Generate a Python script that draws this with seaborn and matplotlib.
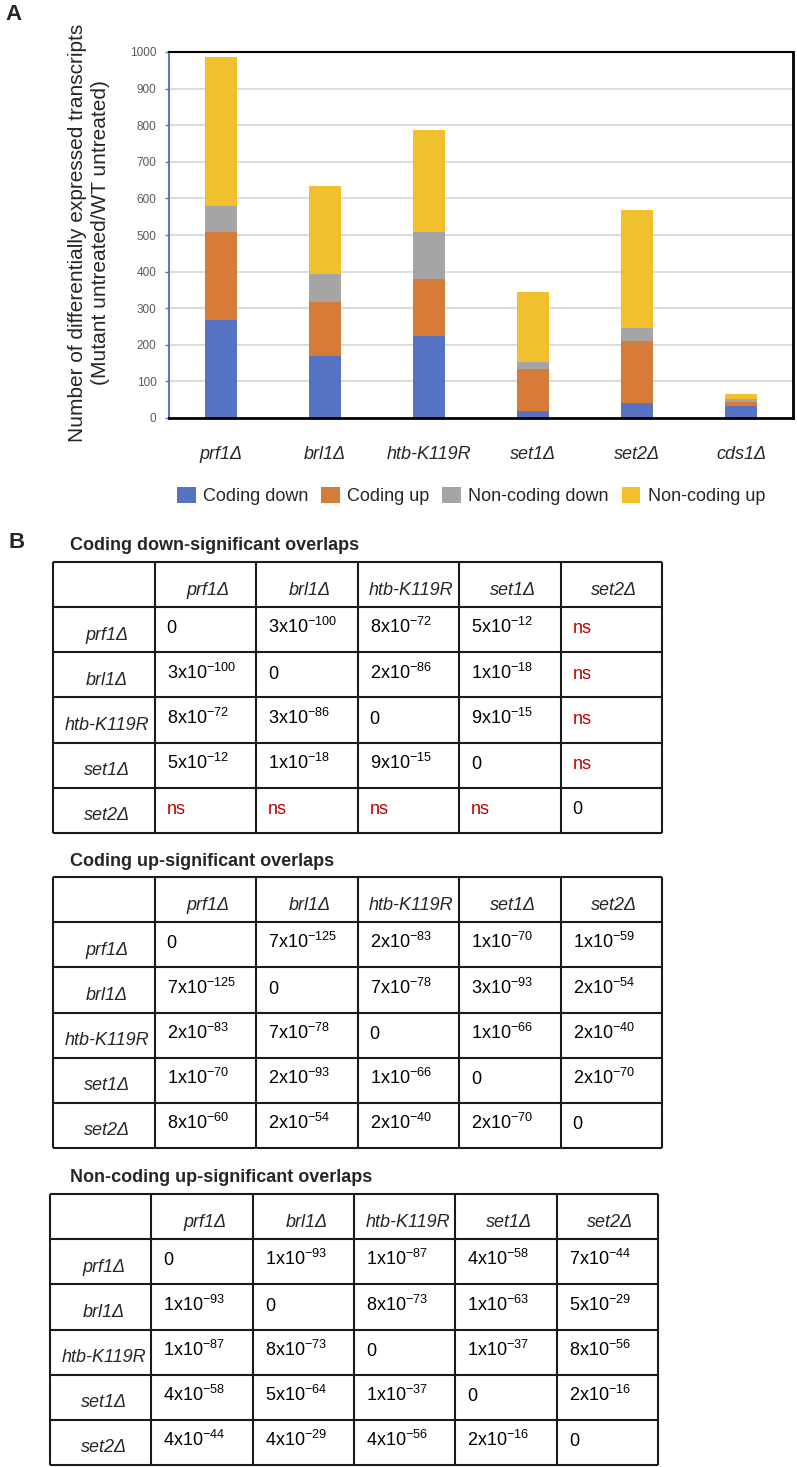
import numpy as np
import pandas as pd
import matplotlib
matplotlib.use("Agg")
import matplotlib.pyplot as plt
from matplotlib.patches import Patch
import seaborn as sns

W, H = 797, 1467

# bar chart data (panel A)
strains = ['prf1Δ', 'brl1Δ', 'htb-K119R', 'set1Δ', 'set2Δ', 'cds1Δ']
coding_down = [267, 169, 223, 19, 40, 32]
coding_up = [241, 148, 157, 116, 170, 11]
noncoding_down = [70, 76, 128, 17, 37, 10]
noncoding_up = [408, 242, 280, 191, 320, 12]

series_names = ['Coding down', 'Coding up', 'Non-coding down', 'Non-coding up']
series_colors = ['#5572C4', '#D67B38', '#A5A5A5', '#F1C02F']

# overlap tables (panel B)
table_strains = ['prf1Δ', 'brl1Δ', 'htb-K119R', 'set1Δ', 'set2Δ']
coding_down_p = [
    ['0', '3x10^-100', '8x10^-72', '5x10^-12', 'ns'],
    ['3x10^-100', '0', '2x10^-86', '1x10^-18', 'ns'],
    ['8x10^-72', '3x10^-86', '0', '9x10^-15', 'ns'],
    ['5x10^-12', '1x10^-18', '9x10^-15', '0', 'ns'],
    ['ns', 'ns', 'ns', 'ns', '0'],
]
coding_up_p = [
    ['0', '7x10^-125', '2x10^-83', '1x10^-70', '1x10^-59'],
    ['7x10^-125', '0', '7x10^-78', '3x10^-93', '2x10^-54'],
    ['2x10^-83', '7x10^-78', '0', '1x10^-66', '2x10^-40'],
    ['1x10^-70', '2x10^-93', '1x10^-66', '0', '2x10^-70'],
    ['8x10^-60', '2x10^-54', '2x10^-40', '2x10^-70', '0'],
]
noncoding_up_p = [
    ['0', '1x10^-93', '1x10^-87', '4x10^-58', '7x10^-44'],
    ['1x10^-93', '0', '8x10^-73', '1x10^-63', '5x10^-29'],
    ['1x10^-87', '8x10^-73', '0', '1x10^-37', '8x10^-56'],
    ['4x10^-58', '5x10^-64', '1x10^-37', '0', '2x10^-16'],
    ['4x10^-44', '4x10^-29', '4x10^-56', '2x10^-16', '0'],
]

sns.set_style("white")
plt.rcParams['font.family'] = ['Liberation Sans', 'DejaVu Sans']
plt.rcParams['mathtext.default'] = 'regular'

fig = plt.figure(figsize=(W / 100, H / 100), dpi=100)


def px_rect(left, top, right, bottom):
    return [left / W, 1 - bottom / H, (right - left) / W, (bottom - top) / H]


# ---- Panel A: stacked bars
ax = fig.add_axes(px_rect(169, 52, 793, 418))
stack = np.cumsum([coding_down, coding_up, noncoding_down, noncoding_up], axis=0)
for i in reversed(range(4)):
    sns.barplot(x=strains, y=stack[i], color=series_colors[i], width=0.31,
                saturation=1, errorbar=None, linewidth=0, ax=ax)

ax.set_xlim(-0.5, 5.5)
ax.set_ylim(0, 1000)
ax.set_yticks(range(0, 1001, 100))
ax.yaxis.grid(True, color='#D9D9D9', lw=1.3)
ax.set_axisbelow(True)
ax.tick_params(axis='y', length=3, width=1, color='#6277C0', labelcolor='#595959',
               labelsize=8.5, pad=6, left=True)
ax.tick_params(axis='x', length=0, pad=20, labelsize=13)
for lab in ax.get_xticklabels():
    lab.set_fontstyle('italic')
ax.set_xlabel('')
ax.set_ylabel('')
for side in ['top', 'right', 'bottom', 'left']:
    ax.spines[side].set_visible(True)
ax.spines['top'].set_color('black')
ax.spines['top'].set_linewidth(1.5)
ax.spines['right'].set_color('black')
ax.spines['right'].set_linewidth(2)
ax.spines['bottom'].set_color('black')
ax.spines['bottom'].set_linewidth(2)
ax.spines['left'].set_color('#6277C0')
ax.spines['left'].set_linewidth(1.5)

fig.text(89 / W, 1 - 233 / H,
         'Number of differentially expressed transcripts\n(Mutant untreated/WT untreated)',
         rotation=90, ha='center', va='center', fontsize=15, linespacing=1.3,
         multialignment='center')

handles = [Patch(facecolor=c, edgecolor='none') for c in series_colors]
fig.legend(handles, series_names, loc='center', bbox_to_anchor=(471 / W, 1 - 496 / H),
           ncol=4, frameon=False, fontsize=13, handlelength=1.05, handleheight=1.05,
           handletextpad=0.4, columnspacing=0.7, borderaxespad=0, borderpad=0)

fig.text(5 / W, 1 - 14 / H, 'A', fontsize=16, fontweight='bold', va='center')
fig.text(9 / W, 1 - 543 / H, 'B', fontsize=16, fontweight='bold', va='center')


# ---- Panel B: tables
def fmt(v):
    if '^' in v:
        base, exp = v.split('^')
        return base[:-2] + '$10^{' + exp + '}$'
    return v


def draw_table(rect, title, title_y, values):
    left, top, right, bottom = rect
    fig.text(70 / W, 1 - title_y / H, title, fontsize=13, fontweight='bold', va='center')
    tax = fig.add_axes(px_rect(left, top, right, bottom))
    tax.set_xlim(0, 6)
    tax.set_ylim(6, 0)
    tax.axis('off')
    tax.hlines(range(7), 0, 6, color='#1a1a1a', lw=1.5, clip_on=False)
    tax.vlines(range(7), 0, 6, color='#1a1a1a', lw=1.5, clip_on=False)
    for j, s in enumerate(table_strains):
        tax.text(j + 1.53, 0.72, s, ha='center', va='baseline', fontsize=13,
                 fontstyle='italic')
        tax.text(0.53, j + 1.72, s, ha='center', va='baseline', fontsize=13,
                 fontstyle='italic')
    for i, row in enumerate(values):
        for j, v in enumerate(row):
            tax.text(j + 1.12, i + 1.58, fmt(v), ha='left', va='baseline', fontsize=13,
                     color='#C00000' if v == 'ns' else 'black')


draw_table((53, 562, 662, 833), 'Coding down-significant overlaps', 545, coding_down_p)
draw_table((53, 877, 662, 1148), 'Coding up-significant overlaps', 862, coding_up_p)
draw_table((50, 1194, 658, 1465), 'Non-coding up-significant overlaps', 1178, noncoding_up_p)

fig.savefig('out.png', dpi=100)
